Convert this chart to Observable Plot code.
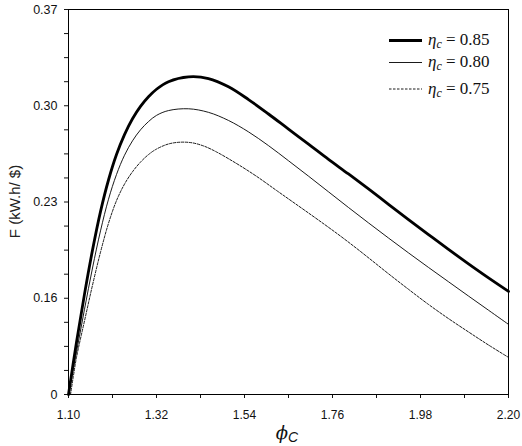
<!DOCTYPE html>
<html>
<head>
<meta charset="utf-8">
<script src="https://cdn.jsdelivr.net/npm/d3@7"></script>
<script src="https://cdn.jsdelivr.net/npm/@observablehq/plot@0.6"></script>
<style>
  html, body { margin: 0; padding: 0; background: #fff; }
  #chart svg { display: block; }
</style>
</head>
<body>
<div id="chart"></div>
<script>
// ---- data ----
const phi85 = [1.10, 1.12, 1.14, 1.16, 1.18, 1.20, 1.22, 1.24, 1.26, 1.28, 1.30, 1.32, 1.35, 1.40, 1.45, 1.50, 1.55, 1.60, 1.65, 1.70, 1.75, 1.80, 1.85, 1.90, 1.95, 2.00, 2.05, 2.10, 2.15, 2.20];
const F85   = [0.090, 0.128, 0.163, 0.195, 0.223, 0.246, 0.2645, 0.279, 0.2905, 0.2995, 0.3065, 0.312, 0.3175, 0.321, 0.3198, 0.3138, 0.3045, 0.294, 0.283, 0.2721, 0.261, 0.2504, 0.2395, 0.2283, 0.2172, 0.2063, 0.1955, 0.185, 0.1748, 0.165];

const phi80 = [1.10, 1.12, 1.14, 1.16, 1.18, 1.20, 1.22, 1.24, 1.26, 1.28, 1.30, 1.32, 1.35, 1.40, 1.45, 1.50, 1.55, 1.60, 1.65, 1.70, 1.75, 1.80, 1.85, 1.90, 1.95, 2.00, 2.05, 2.10, 2.15, 2.20];
const F80   = [0.090, 0.121, 0.152, 0.182, 0.209, 0.232, 0.250, 0.264, 0.2745, 0.2825, 0.2885, 0.293, 0.2965, 0.2978, 0.2952, 0.2893, 0.281, 0.271, 0.260, 0.2488, 0.2374, 0.226, 0.2148, 0.2038, 0.193, 0.1824, 0.172, 0.1616, 0.1513, 0.141];

const phi75 = [1.105, 1.112, 1.12, 1.14, 1.16, 1.18, 1.20, 1.22, 1.24, 1.26, 1.28, 1.30, 1.32, 1.35, 1.38, 1.41, 1.44, 1.47, 1.52, 1.57, 1.62, 1.66, 1.70, 1.74, 1.78, 1.82, 1.86, 1.90, 1.95, 2.00, 2.05, 2.10, 2.15, 2.20];
const F75   = [0.090, 0.103, 0.117, 0.1435, 0.1695, 0.1935, 0.2145, 0.231, 0.243, 0.252, 0.259, 0.2645, 0.2685, 0.2722, 0.2735, 0.2730, 0.2705, 0.2664, 0.2580, 0.2487, 0.2384, 0.2302, 0.222, 0.2137, 0.2052, 0.1963, 0.1871, 0.1778, 0.1665, 0.1555, 0.1452, 0.1355, 0.126, 0.117];

const seriesNames = ["0.85", "0.80", "0.75"];

const xTicks = [1.10, 1.32, 1.54, 1.76, 1.98, 2.20];
const xTickLabels = ["1.10", "1.32", "1.54", "1.76", "1.98", "2.20"];
const xMinorTicks = [1.21, 1.43, 1.65, 1.87, 2.09];
const yTicks = [0.09, 0.16, 0.23, 0.30, 0.37];
const yTickLabels = ["0", "0.16", "0.23", "0.30", "0.37"];
const yMinorTicks = [0.1075, 0.125, 0.1425, 0.1775, 0.195, 0.2125, 0.2475, 0.265, 0.2825, 0.3175, 0.335, 0.3525];

// ---- build table ----
const rows = [];
[[phi85, F85, seriesNames[0]], [phi80, F80, seriesNames[1]], [phi75, F75, seriesNames[2]]].forEach(([xs, ys, s]) => {
  xs.forEach((x, i) => rows.push({phi: x, F: ys[i], eta: s}));
});
const bySeries = s => rows.filter(d => d.eta === s);

const W = 522, H = 446;
const mL = 68, mR = 14, mT = 9, mB = 52;

const plot = Plot.plot({
  width: W,
  height: H,
  marginLeft: mL,
  marginRight: mR,
  marginTop: mT,
  marginBottom: mB,
  style: { fontFamily: "'Liberation Sans', Arial, sans-serif", fontSize: "12px", color: "#111", background: "#fff" },
  x: { domain: [1.10, 2.20], axis: null },
  y: { domain: [0.09, 0.37], axis: null },
  marks: [
    Plot.axisX({ ticks: xTicks, tickSize: 4, tickPadding: 12, tickFormat: d => xTickLabels[xTicks.indexOf(d)], label: null, fontSize: 12 }),
    Plot.axisX({ ticks: xMinorTicks, tickSize: 4, tickFormat: () => "", label: null }),
    Plot.axisY({ ticks: yTicks, tickSize: 4, tickPadding: 7, tickFormat: d => yTickLabels[yTicks.indexOf(d)], label: null, fontSize: 12.5 }),
    Plot.axisY({ ticks: yMinorTicks, tickSize: 4, tickFormat: () => "", label: null }),
    Plot.line(bySeries("0.85"), { x: "phi", y: "F", stroke: "black", strokeWidth: 2.8, curve: "catmull-rom" }),
    Plot.line(bySeries("0.80"), { x: "phi", y: "F", stroke: "black", strokeWidth: 0.9, curve: "catmull-rom" }),
    Plot.line(bySeries("0.75"), { x: "phi", y: "F", stroke: "black", strokeWidth: 0.9, strokeDasharray: "2.5,1.5", curve: "catmull-rom" }),
    Plot.frame({ stroke: "black", strokeWidth: 1 })
  ]
});

document.getElementById("chart").appendChild(plot);

// ---- axis titles and legend ----
const svg = d3.select(plot);

// y-axis title
svg.append("text")
  .attr("transform", `translate(20,${(mT + H - mB) / 2}) rotate(-90)`)
  .attr("text-anchor", "middle")
  .attr("font-family", "'Liberation Sans', Arial, sans-serif")
  .attr("font-size", 15)
  .attr("fill", "#222")
  .text("F (kW.h/ $)");

// x-axis title: phi_C
const xt = svg.append("text")
  .attr("x", 287)
  .attr("y", 439)
  .attr("text-anchor", "middle")
  .attr("font-family", "'DejaVu Serif', 'Liberation Serif', serif")
  .attr("font-style", "italic")
  .attr("fill", "#111");
xt.append("tspan").attr("font-size", 18).text("\u03D5");
xt.append("tspan").attr("font-size", 14).attr("dy", 3).attr("font-family", "'Liberation Sans', Arial, sans-serif").text("C");

// legend
const legend = [
  { name: seriesNames[0], lineY: 40.5, textY: 45, width: 2.8, dash: null },
  { name: seriesNames[1], lineY: 62.5, textY: 67, width: 0.9, dash: null },
  { name: seriesNames[2], lineY: 89, textY: 94, width: 0.9, dash: "2.5,1.5" }
];
const lg = svg.append("g");
legend.forEach(d => {
  const ln = lg.append("line")
    .attr("x1", 389).attr("x2", 422)
    .attr("y1", d.lineY).attr("y2", d.lineY)
    .attr("stroke", "black").attr("stroke-width", d.width);
  if (d.dash) ln.attr("stroke-dasharray", d.dash);
  const t = lg.append("text")
    .attr("x", 428).attr("y", d.textY)
    .attr("text-anchor", "start")
    .attr("font-family", "'Liberation Serif', 'Times New Roman', serif")
    .attr("font-size", 17)
    .attr("fill", "#111");
  t.append("tspan").attr("font-style", "italic").text("\u03B7");
  t.append("tspan").attr("font-style", "italic").attr("font-size", 12).attr("dy", 3).text("c");
  t.append("tspan").attr("dy", -3).text(" = " + d.name);
});
</script>
</body>
</html>
